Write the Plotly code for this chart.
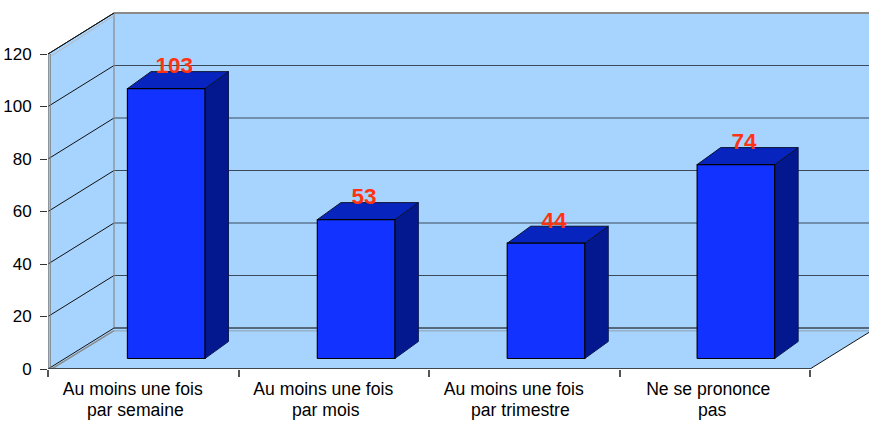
import plotly.graph_objects as go

line1 = ["Au moins une fois", "Au moins une fois", "Au moins une fois", "Ne se prononce"]
line2 = ["par semaine", "par mois", "par trimestre", "pas"]
values = [103, 53, 44, 74]
y_ticks = [0, 20, 40, 60, 80, 100, 120]

W, H = 869, 421
PX_X0, PX_Y0 = 48, 369      # pixel position of the chart origin
PX_CAT = 190.5              # pixels per category
PX_VAL = 2.625              # pixels per value unit
DX = 66 / PX_CAT            # depth of the box, in category units
DY = 41 / PX_VAL            # depth of the box, in value units
BAR_PITCH = 189.9 / PX_CAT
BAR_INSET = 0.417
BAR_WIDTH = 0.407
BAR_BASE = 10.5 / PX_VAL
BAR_SCALE = 2.62 / PX_VAL
BAR_DX = 23.5 / PX_CAT
BAR_DY = 17 / PX_VAL
LINE1_SHIFT = [0, 0, 0, 4 / PX_CAT]
LINE2_SHIFT = [0, 0, 4 / PX_CAT, 5 / PX_CAT]

WALL = "#A6D4FE"
FRONT = "#1232FF"
TOP = "#0824BE"
SIDE = "#03188F"
RED = "#FF3311"
FONT = "Liberation Sans"

fig = go.Figure()


def poly(xs, ys, fill=None, line="black", width=1, clip=True):
    fig.add_trace(go.Scatter(
        x=xs, y=ys, mode="lines",
        fill="toself" if fill else None,
        fillcolor=fill,
        line=dict(color=line, width=width) if width else dict(width=0),
        hoverinfo="skip", showlegend=False, cliponaxis=clip))


n = len(values)
top = y_ticks[-1]
# back wall, left wall, floor
poly([DX, n + 2, n + 2, DX, DX], [DY, DY, top + DY, top + DY, DY], WALL, width=0)
poly([0, DX, DX, 0, 0], [0, DY, top + DY, top, 0], WALL, width=0)
poly([0, n, n + DX, n + 2, DX, 0], [0, 0, DY, DY, DY, 0], WALL, width=0)

# gridlines
for t in y_ticks[1:]:
    poly([0, DX], [t, t + DY], line="#111111", width=1)
    poly([DX, n + 2], [t + DY, t + DY], line="#3A4A5A", width=1)

# wall edges
poly([DX, DX], [DY, top + DY], line="#8A8A8A", width=1.2)
poly([DX, n + 2], [top + DY, top + DY], line="#8A8A8A", width=2)
poly([0, DX], [top, top + DY], line="#111111", width=1)
poly([0.012, DX], [top - 1, top + DY - 1], line="#B8B8B8", width=1)
poly([0, DX], [0, DY], line="#111111", width=1)
poly([0.012, DX], [-0.3, DY - 1], line="#8A8A8A", width=1.5)
poly([DX, n + 2], [DY, DY], line="#56687A", width=2)
poly([DX, n + 2], [DY - 1.1, DY - 1.1], line="#8FA0B0", width=1)
poly([n, n + DX], [0, DY], line="#111111", width=1)

# axis edges
poly([0, 0], [0, top], line="#808080", width=1.5, clip=False)
poly([0.012, 0.012], [0, top], line="#808080", width=1, clip=False)
poly([0, n], [0, 0], line="#3E464E", width=2, clip=False)

# bars
for i, v in enumerate(values):
    x0 = i * BAR_PITCH + BAR_INSET
    x1 = x0 + BAR_WIDTH
    b = BAR_BASE
    h = b + v * BAR_SCALE
    poly([x1, x1 + BAR_DX, x1 + BAR_DX, x1, x1], [b, b + BAR_DY, h + BAR_DY, h, b], SIDE, line="#0A1A50", width=1)
    poly([x0, x1, x1 + BAR_DX, x0 + BAR_DX, x0], [h, h, h + BAR_DY, h + BAR_DY, h], TOP, line="#0A1230", width=1)
    poly([x0, x1, x1, x0, x0], [b, b, h, h, b], FRONT, line="black", width=1.2)

# data labels
fig.add_trace(go.Scatter(
    x=[i * BAR_PITCH + BAR_INSET + BAR_WIDTH / 2 + 8 / PX_CAT for i in range(n)],
    y=[BAR_BASE + v * BAR_SCALE + 21 / PX_VAL for v in values],
    text=[str(v) for v in values], mode="text", textposition="middle center",
    textfont=dict(family=FONT, size=22.5, color=RED, weight="bold"),
    hoverinfo="skip", showlegend=False, cliponaxis=False))

# second line of the category labels
for i, t in enumerate(line2):
    fig.add_annotation(x=i + 0.46 + LINE2_SHIFT[i], y=0, xref="x", yref="y", text=t, showarrow=False,
                       xanchor="center", yanchor="middle", yshift=-41,
                       font=dict(family=FONT, size=17.6, color="#000000"))

fig.update_layout(
    width=W, height=H, autosize=False,
    margin=dict(l=PX_X0, r=0, t=0, b=H - PX_Y0, pad=0),
    paper_bgcolor="white", plot_bgcolor="white",
    xaxis=dict(range=[0, (W - PX_X0) / PX_CAT], showgrid=False, zeroline=False, showline=False,
               tickmode="array", tickvals=[i + 0.445 + LINE1_SHIFT[i] for i in range(n)], ticktext=line1,
               ticks="", tickfont=dict(family=FONT, size=17.6, color="#000000"),
               ticklabelstandoff=7,
               minor=dict(tickmode="array", tickvals=list(range(n + 1)), ticks="outside",
                          ticklen=7, tickwidth=1.5, tickcolor="#555555", showgrid=False)),
    yaxis=dict(range=[0, PX_Y0 / PX_VAL], showgrid=False, zeroline=False, showline=False,
               tickmode="array", tickvals=y_ticks, ticks="outside", ticklen=7, tickwidth=1,
               tickcolor="#333333", tickfont=dict(family=FONT, size=17, color="#000000"),
               ticklabelstandoff=5),
)

fig.write_html("out.html", config={"displayModeBar": False},
               post_script="document.body.style.margin='0';")
